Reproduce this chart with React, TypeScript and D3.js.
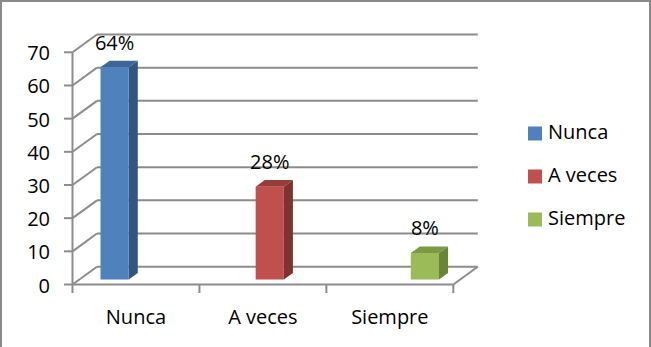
import React from "react";
import * as d3 from "d3";

const categories = ["Nunca", "A veces", "Siempre"];
const values = [64, 28, 8];
const valueLabels = ["64%", "28%", "8%"];
const yTicks = [0, 10, 20, 30, 40, 50, 60, 70];
const frontColors = ["#4F81BD", "#C0504D", "#9BBB59"];
const topColors = ["#3D6698", "#963D3B", "#7D9A43"];
const sideColors = ["#34557F", "#7F3230", "#6A8535"];

const W = 651;
const H = 347;
const DX = 24.5;
const DY = -17.8;
const F0 = 0.28;
const F1 = 0.65;
const FONT = "'Open Sans', sans-serif";
const FS = 20;
const GRID = "#8C8C8C";

export default function App() {
  const x0 = d3.scaleBand<string>().domain(categories).range([72.5, 453.3]).padding(0);
  const x1 = d3
    .scaleBand<string>()
    .domain(categories)
    .range([0, x0.bandwidth()])
    .paddingInner(0)
    .paddingOuter(0.75);
  const y = d3.scaleLinear().domain([0, 70]).range([284.5, 52.3]);
  const left = x0.range()[0];
  const right = x0.range()[1];
  const y0 = y(0);
  const pts = (a: [number, number][]) => a.map((p) => p.join(",")).join(" ");

  return (
    <svg
      width={W}
      height={H}
      style={{ position: "absolute", left: 0, top: 0, background: "#fff" }}
    >
      <rect x={1} y={1} width={649} height={370} fill="#fff" stroke="#8A8A8A" strokeWidth={2} />
      {yTicks.map((t) => (
        <g key={t}>
          <line x1={left + DX} x2={right + DX} y1={y(t) + DY} y2={y(t) + DY} stroke={GRID} strokeWidth={2} />
          <line x1={left} x2={left + DX} y1={y(t)} y2={y(t) + DY} stroke={GRID} strokeWidth={2} />
          <line x1={left - 8.5} x2={left} y1={y(t)} y2={y(t)} stroke={GRID} strokeWidth={2} />
          <text x={50} y={y(t) + 8} textAnchor="end" fontFamily={FONT} fontSize={FS} fill="#000">
            {t}
          </text>
        </g>
      ))}
      <line x1={left} x2={left} y1={y(0)} y2={y(70)} stroke={GRID} strokeWidth={2} />
      <line x1={left} x2={right} y1={y0} y2={y0} stroke={GRID} strokeWidth={2} />
      <line x1={right} x2={right + DX} y1={y0} y2={y0 + DY} stroke={GRID} strokeWidth={2} />
      {[...categories.map((c) => x0(c) as number), right].map((xv, i) => (
        <line key={i} x1={xv} x2={xv} y1={y0} y2={y0 + 8.5} stroke={GRID} strokeWidth={2} />
      ))}
      {categories.map((c, i) => {
        const bx = (x0(c) as number) + (x1(categories[i]) as number) + F0 * DX;
        const bw = x1.bandwidth();
        const by0 = y(0) + F0 * DY;
        const byt = y(values[i]) + F0 * DY;
        const ddx = (F1 - F0) * DX;
        const ddy = (F1 - F0) * DY;
        return (
          <g key={c}>
            <polygon
              points={pts([
                [bx + bw, byt],
                [bx + bw + ddx, byt + ddy],
                [bx + bw + ddx, by0 + ddy],
                [bx + bw, by0],
              ])}
              fill={sideColors[i]}
            />
            <polygon
              points={pts([
                [bx, byt],
                [bx + ddx, byt + ddy],
                [bx + bw + ddx, byt + ddy],
                [bx + bw, byt],
              ])}
              fill={topColors[i]}
            />
            <rect x={bx} y={byt} width={bw} height={by0 - byt} fill={frontColors[i]} />
            <text
              x={bx + bw / 2}
              y={byt + ddy - 11}
              textAnchor="middle"
              fontFamily={FONT}
              fontSize={FS}
              fill="#000"
            >
              {valueLabels[i]}
            </text>
            <text
              x={(x0(c) as number) + x0.bandwidth() / 2}
              y={323.5}
              textAnchor="middle"
              fontFamily={FONT}
              fontSize={FS}
              fill="#000"
            >
              {c}
            </text>
          </g>
        );
      })}
      {categories.map((c, i) => (
        <g key={"lg" + c} transform={`translate(528, ${126.5 + i * 43})`}>
          <rect x={0} y={0} width={14} height={14} fill={frontColors[i]} />
          <text x={20} y={12.5} fontFamily={FONT} fontSize={FS} fill="#000">
            {c}
          </text>
        </g>
      ))}
    </svg>
  );
}
